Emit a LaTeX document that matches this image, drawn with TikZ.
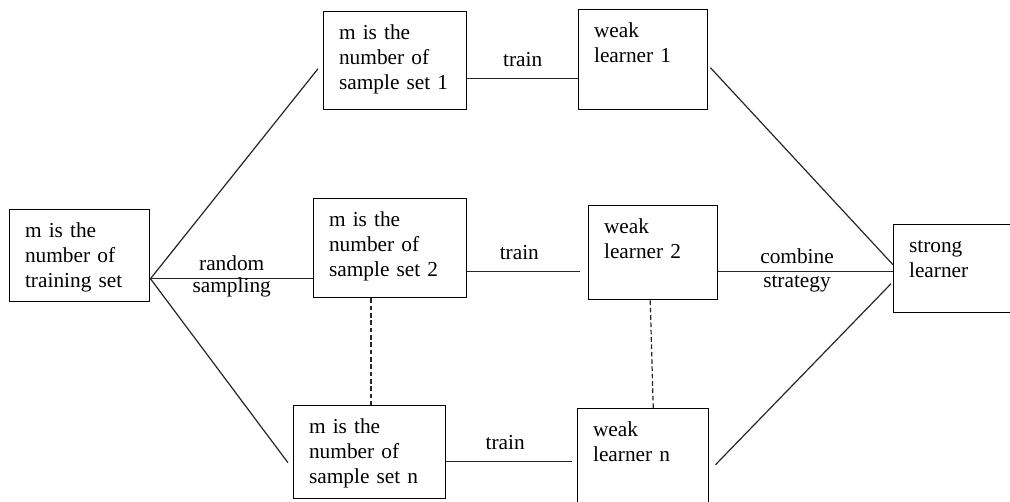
\documentclass[tikz,border=0pt]{standalone}
\usepackage{fontspec}
\setmainfont{Liberation Serif}
\usetikzlibrary{positioning}

\begin{document}
\begin{tikzpicture}[
  x=0.75pt, y=-0.75pt,
  font=\fontsize{16}{18.5}\selectfont,
  box/.style={draw, line width=1.1pt, anchor=north west, align=left, inner xsep=11.5pt, inner ysep=0pt, text height=21pt},
  link/.style={line width=0.9pt, draw=black!85},
  dots/.style={link, dash pattern=on 3.5pt off 2pt},
  lbl/.style={anchor=base, align=center, inner sep=0pt, text=black}
]
\useasboundingbox (0,0) rectangle (1010,501);
\node[box, text width=82pt, text depth=48pt] (trainset) at (9,209) {m is the\\number of\\training set};
\node[box, text width=84.25pt, text depth=52.5pt] (sample1) at (323,11) {m is the\\number of\\sample set 1};
\node[box, text width=91.75pt, text depth=53.25pt] (sample2) at (313,198) {m is the\\number of\\sample set 2};
\node[box, text width=91pt, text depth=48.75pt] (samplen) at (293,405) {m is the\\number of\\sample set n};
\node[box, text width=73.75pt, text depth=54pt] (weak1) at (578,9) {weak\\learner 1};
\node[box, text width=73.75pt, text depth=49.5pt] (weak2) at (588,205) {weak\\learner 2};
\node[box, text width=75.25pt, text depth=52.5pt] (weakn) at (577,408) {weak\\learner n};
\node[box, text width=72.25pt, text depth=45pt] (strong) at (893,224) {strong\\learner};
\coordinate (hub) at ([shift={(0,23)}]trainset.east);
\coordinate (train1) at ([shift={(0,18)}]sample1.east);
\coordinate (train2) at ([shift={(0,23.5)}]sample2.east);
\coordinate (trainn) at ([shift={(0,9.5)}]samplen.east);
\coordinate (comb) at ([shift={(0,3)}]strong.west);
\draw[link] (hub) -- ([shift={(-5,8)}]sample1.west);
\draw[link] (hub) -- (hub -| sample2.west) node[lbl, midway, yshift=-10.5pt, font=\fontsize{16}{16.5}\selectfont] (rndlbl) {random\\sampling};
\draw[link] (hub) -- ([shift={(-5,10.5)}]samplen.west);
\draw[link] (train1) -- (train1 -| weak1.west) node[lbl, midway, yshift=9pt] (trainlbl1) {train};
\draw[link, shorten >=6pt] (train2) -- (train2 -| weak2.west) node[lbl, pos=0.43, yshift=9pt] (trainlbl2) {train};
\draw[link, shorten >=3.75pt] (trainn) -- (trainn -| weakn.west) node[lbl, pos=0.45, yshift=9pt] (trainlbln) {train};
\draw[link] (comb -| weak2.east) -- (comb) node[lbl, pos=0.45, yshift=-12pt, font=\fontsize{16}{18}\selectfont] (comblbl) {combine\\strategy};
\draw[link] ([shift={(2,8)}]weak1.east) -- ([shift={(0,-4)}]strong.west);
\draw[link] ([shift={(6,7)}]weakn.east) -- ([shift={(-2,15)}]strong.west);
\draw[dots] ([shift={(58,0)}]sample2.south west) -- ([shift={(58,0)}]sample2.south west |- samplen.north);
\draw[dots] ([shift={(-3,0)}]weak2.south) -- ([shift={(10,0)}]weakn.north);
\end{tikzpicture}
\end{document}
